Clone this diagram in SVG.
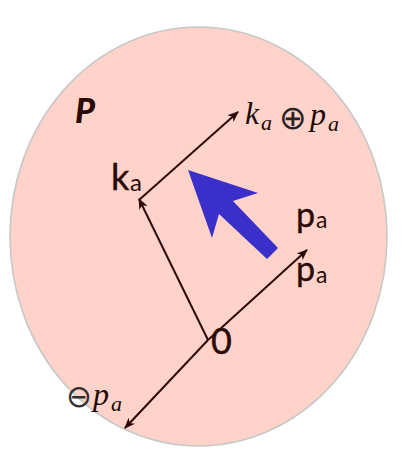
<svg xmlns="http://www.w3.org/2000/svg" width="415" height="464" viewBox="0 0 415 464">
<defs>
<marker id="ah" viewBox="0 0 11 9" refX="10" refY="4.5" markerWidth="11" markerHeight="9" markerUnits="userSpaceOnUse" orient="auto">
<path d="M0,0 L11,4.5 L0,9 L3,4.5 z" fill="#2b0906"/>
</marker>
<style>
.ln{stroke:#2b0906;stroke-width:2;fill:none}
.sans{font-family:Lato,"Open Sans","DejaVu Sans",sans-serif;fill:#2b0906}
.big{stroke:#2b0906;stroke-width:0.4}
.math{font-family:"Liberation Serif","DejaVu Serif",serif;font-style:italic;fill:#1a0a08}
.op{font-family:"DejaVu Sans",sans-serif;font-weight:normal}
</style>
</defs>
<rect width="415" height="464" fill="#ffffff"/>
<g id="region-P">
<ellipse cx="198.5" cy="236.5" rx="188.5" ry="209.5" fill="#ffd3ca" stroke="#c8c8c8" stroke-width="1.6"/>
<text x="75" y="123" font-size="34" font-weight="900" font-style="italic" font-family="Lato,'DejaVu Sans',sans-serif" fill="#2b0906">P</text>
</g>
<g id="connectors">
<line class="ln" x1="208" y1="340" x2="139" y2="199" marker-end="url(#ah)"/>
<line class="ln" x1="139" y1="200" x2="238" y2="112" marker-end="url(#ah)"/>
<line class="ln" x1="208" y1="340" x2="307" y2="250" marker-end="url(#ah)"/>
<line class="ln" x1="208" y1="340" x2="125" y2="428" marker-end="url(#ah)"/>
</g>
<g id="big-arrow">
<polygon points="188,170 258,193 233,201 278,248 267,259 219,214 212,238" fill="#3b2fc9"/>
</g>
<g id="node-origin">
<text class="sans big" x="211" y="354" font-size="36">0</text>
</g>
<g id="node-ka">
<text class="sans" x="111" y="190" font-size="36"><tspan class="big">k</tspan><tspan x="130" y="191" font-size="24">a</tspan></text>
</g>
<g id="node-pa-top">
<text class="sans" x="296" y="227" font-size="34"><tspan class="big">p</tspan><tspan x="316" y="228" font-size="23">a</tspan></text>
</g>
<g id="node-pa-bottom">
<text class="sans" x="296" y="281" font-size="34"><tspan class="big">p</tspan><tspan x="316" y="283" font-size="23">a</tspan></text>
</g>
<g id="node-ka-plus-pa">
<text class="math" x="245" y="124" font-size="32">k<tspan x="261" y="130" font-size="22">a</tspan></text>
<text class="op" x="279" y="129" font-size="33" fill="#2a2222">⊕</text>
<text class="math" x="310" y="125" font-size="32">p<tspan x="328" y="131" font-size="22">a</tspan></text>
</g>
<g id="node-minus-pa">
<text class="op" x="66" y="407" font-size="31" fill="#333030">⊖</text>
<text class="math" x="93" y="405" font-size="32" fill="#2a1a18">p<tspan x="111" y="411" font-size="22">a</tspan></text>
</g>
</svg>
